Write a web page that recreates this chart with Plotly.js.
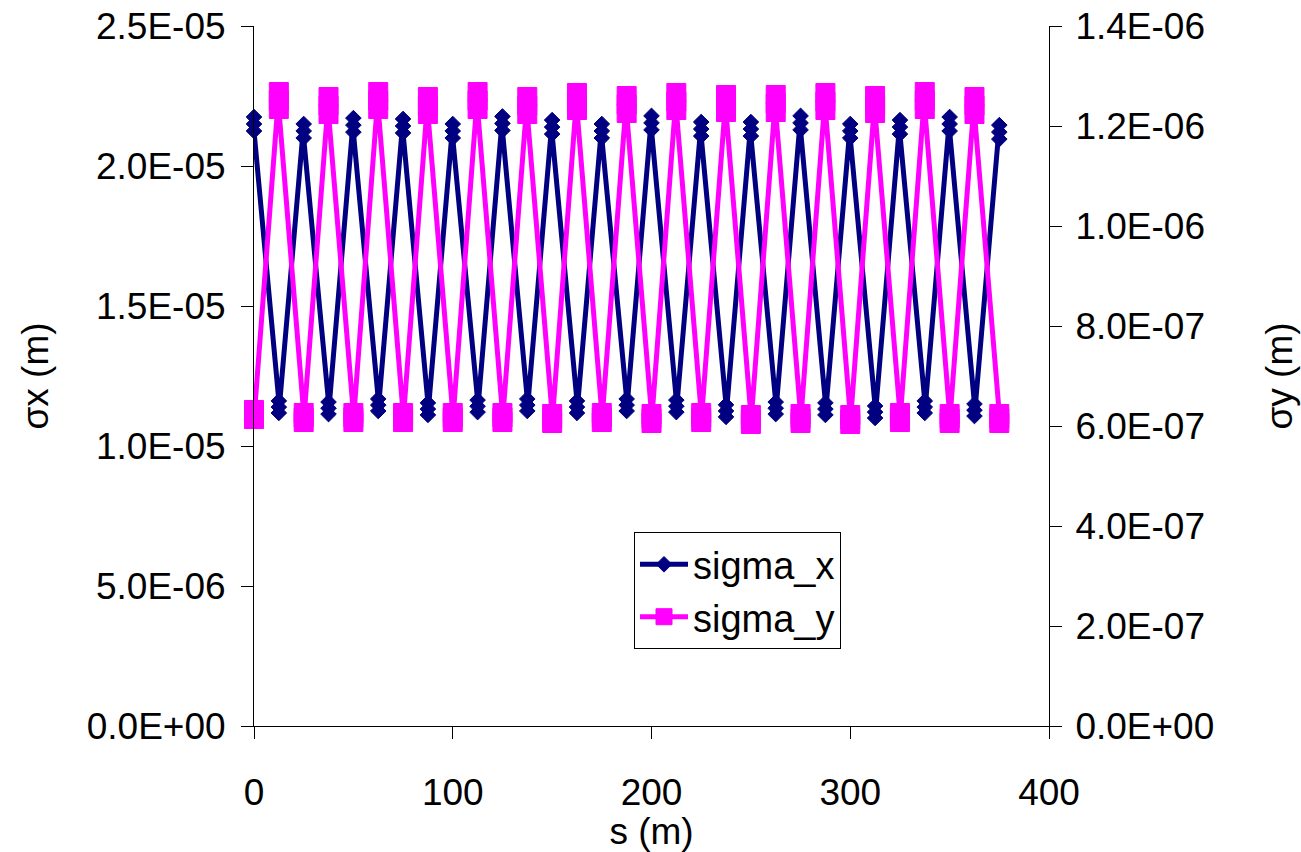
<!DOCTYPE html>
<html>
<head>
<meta charset="utf-8">
<script src="https://cdn.plot.ly/plotly-3.0.1.min.js"></script>
<style>
  html, body { margin: 0; padding: 0; background: #ffffff; }
  #chart { width: 1301px; height: 852px; }
</style>
</head>
<body>
<div id="chart"></div>
<script>
// Beam size along the lattice: three samples at every quadrupole position
const s = [
  0, 0, 0,  12.5, 12.5, 12.5,  25, 25, 25,  37.5, 37.5, 37.5,
  50, 50, 50,  62.5, 62.5, 62.5,  75, 75, 75,  87.5, 87.5, 87.5,
  100, 100, 100,  112.5, 112.5, 112.5,  125, 125, 125,  137.5, 137.5, 137.5,
  150, 150, 150,  162.5, 162.5, 162.5,  175, 175, 175,  187.5, 187.5, 187.5,
  200, 200, 200,  212.5, 212.5, 212.5,  225, 225, 225,  237.5, 237.5, 237.5,
  250, 250, 250,  262.5, 262.5, 262.5,  275, 275, 275,  287.5, 287.5, 287.5,
  300, 300, 300,  312.5, 312.5, 312.5,  325, 325, 325,  337.5, 337.5, 337.5,
  350, 350, 350,  362.5, 362.5, 362.5,  375, 375, 375
];

// Horizontal beam size (m), left axis
const sigmaX = [
  2.175e-5, 2.150e-5, 2.125e-5,   1.161e-5, 1.139e-5, 1.118e-5,
  2.150e-5, 2.125e-5, 2.100e-5,   1.157e-5, 1.135e-5, 1.114e-5,
  2.171e-5, 2.146e-5, 2.121e-5,   1.168e-5, 1.146e-5, 1.125e-5,
  2.168e-5, 2.143e-5, 2.118e-5,   1.154e-5, 1.132e-5, 1.111e-5,
  2.150e-5, 2.125e-5, 2.100e-5,   1.164e-5, 1.142e-5, 1.121e-5,
  2.177e-5, 2.152e-5, 2.127e-5,   1.168e-5, 1.146e-5, 1.125e-5,
  2.164e-5, 2.139e-5, 2.114e-5,   1.161e-5, 1.139e-5, 1.118e-5,
  2.150e-5, 2.125e-5, 2.100e-5,   1.168e-5, 1.146e-5, 1.125e-5,
  2.179e-5, 2.154e-5, 2.129e-5,   1.164e-5, 1.142e-5, 1.121e-5,
  2.157e-5, 2.132e-5, 2.107e-5,   1.147e-5, 1.125e-5, 1.104e-5,
  2.157e-5, 2.132e-5, 2.107e-5,   1.157e-5, 1.135e-5, 1.114e-5,
  2.179e-5, 2.154e-5, 2.129e-5,   1.154e-5, 1.132e-5, 1.111e-5,
  2.150e-5, 2.125e-5, 2.100e-5,   1.143e-5, 1.121e-5, 1.100e-5,
  2.164e-5, 2.139e-5, 2.114e-5,   1.161e-5, 1.139e-5, 1.118e-5,
  2.175e-5, 2.150e-5, 2.125e-5,   1.150e-5, 1.128e-5, 1.107e-5,
  2.146e-5, 2.121e-5, 2.096e-5
];

// Vertical beam size (m), right axis
const sigmaY = [
  0.632e-6, 0.623e-6, 0.614e-6,   1.268e-6, 1.251e-6, 1.234e-6,
  0.626e-6, 0.617e-6, 0.608e-6,   1.258e-6, 1.241e-6, 1.224e-6,
  0.626e-6, 0.617e-6, 0.608e-6,   1.268e-6, 1.251e-6, 1.234e-6,
  0.626e-6, 0.617e-6, 0.608e-6,   1.258e-6, 1.241e-6, 1.224e-6,
  0.626e-6, 0.617e-6, 0.608e-6,   1.268e-6, 1.251e-6, 1.234e-6,
  0.626e-6, 0.617e-6, 0.608e-6,   1.258e-6, 1.241e-6, 1.224e-6,
  0.624e-6, 0.615e-6, 0.606e-6,   1.266e-6, 1.249e-6, 1.232e-6,
  0.626e-6, 0.617e-6, 0.608e-6,   1.260e-6, 1.243e-6, 1.226e-6,
  0.624e-6, 0.615e-6, 0.606e-6,   1.266e-6, 1.249e-6, 1.232e-6,
  0.626e-6, 0.617e-6, 0.608e-6,   1.262e-6, 1.245e-6, 1.228e-6,
  0.622e-6, 0.613e-6, 0.604e-6,   1.262e-6, 1.245e-6, 1.228e-6,
  0.624e-6, 0.615e-6, 0.606e-6,   1.266e-6, 1.249e-6, 1.232e-6,
  0.622e-6, 0.613e-6, 0.604e-6,   1.260e-6, 1.243e-6, 1.226e-6,
  0.626e-6, 0.617e-6, 0.608e-6,   1.268e-6, 1.251e-6, 1.234e-6,
  0.624e-6, 0.615e-6, 0.606e-6,   1.258e-6, 1.241e-6, 1.224e-6,
  0.624e-6, 0.615e-6, 0.606e-6
];

// Axis ticks
const sTicks = [0, 100, 200, 300, 400];
const sTickText = ['0', '100', '200', '300', '400'];
const xTicksLeft = [0, 5e-6, 1e-5, 1.5e-5, 2e-5, 2.5e-5];
const xTickTextLeft = ['0.0E+00', '5.0E-06', '1.0E-05', '1.5E-05', '2.0E-05', '2.5E-05'];
const yTicksRight = [0, 2e-7, 4e-7, 6e-7, 8e-7, 1e-6, 1.2e-6, 1.4e-6];
const yTickTextRight = ['0.0E+00', '2.0E-07', '4.0E-07', '6.0E-07', '8.0E-07', '1.0E-06', '1.2E-06', '1.4E-06'];

const NAVY = '#000080';
const MAGENTA = '#FF00FF';
const FONT = 'Liberation Sans, Arial, sans-serif';
const FS = 37;

const traces = [
  {
    x: s, y: sigmaX, name: 'sigma_x', type: 'scatter', mode: 'lines+markers',
    xaxis: 'x', yaxis: 'y', cliponaxis: false,
    line: { color: NAVY, width: 5 },
    marker: { symbol: 'diamond', size: 12, color: NAVY, line: { color: NAVY, width: 1 } }
  },
  {
    x: s, y: sigmaY, name: 'sigma_y', type: 'scatter', mode: 'lines+markers',
    xaxis: 'x', yaxis: 'y2', cliponaxis: false,
    line: { color: MAGENTA, width: 5 },
    marker: { symbol: 'square', size: 19, color: MAGENTA, line: { color: MAGENTA, width: 1 } }
  }
];

const baseAxis = {
  showgrid: false, zeroline: false, showline: true,
  linecolor: '#000000', linewidth: 1,
  ticks: 'outside', ticklen: 12, tickwidth: 1, tickcolor: '#000000',
  tickfont: { family: FONT, size: FS, color: '#000000' }
};

// inward half of the crossing tick marks
const innerTicks = {
  showgrid: false, zeroline: false, showline: false, showticklabels: false,
  ticks: 'inside', ticklen: 6, tickwidth: 1, tickcolor: '#000000'
};

const layout = {
  width: 1301, height: 852,
  margin: { l: 254, r: 252, t: 26, b: 126 },
  paper_bgcolor: '#ffffff', plot_bgcolor: '#ffffff',
  font: { family: FONT, size: FS, color: '#000000' },
  showlegend: true,
  xaxis: Object.assign({}, baseAxis, {
    range: [0, 400], tickmode: 'array', tickvals: sTicks, ticktext: sTickText,
    ticklabelstandoff: 22,
    title: { text: 's (m)', font: { family: FONT, size: FS }, standoff: 14 }
  }),
  yaxis: Object.assign({}, baseAxis, {
    range: [0, 2.5e-5], tickmode: 'array', tickvals: xTicksLeft, ticktext: xTickTextLeft,
    ticklabelstandoff: 8,
    title: { text: 'σx (m)', font: { family: FONT, size: FS }, standoff: 26 }
  }),
  yaxis2: Object.assign({}, baseAxis, {
    overlaying: 'y', side: 'right', anchor: 'x',
    range: [0, 1.4e-6], tickmode: 'array', tickvals: yTicksRight, ticktext: yTickTextRight,
    ticklabelstandoff: 6,
    title: { text: 'σy (m)', font: { family: FONT, size: FS }, standoff: 52 }
  }),
  xaxis2: Object.assign({}, innerTicks, {
    overlaying: 'x', anchor: 'y', side: 'bottom',
    range: [0, 400], tickmode: 'array', tickvals: sTicks
  }),
  yaxis3: Object.assign({}, innerTicks, {
    overlaying: 'y', anchor: 'x', side: 'left',
    range: [0, 2.5e-5], tickmode: 'array', tickvals: xTicksLeft
  }),
  yaxis4: Object.assign({}, innerTicks, {
    overlaying: 'y', anchor: 'x', side: 'right',
    range: [0, 1.4e-6], tickmode: 'array', tickvals: yTicksRight
  }),
  legend: {
    x: 0.478, y: 0.277, xanchor: 'left', yanchor: 'top',
    bgcolor: '#ffffff', bordercolor: '#000000', borderwidth: 1,
    font: { family: FONT, size: 38, color: '#000000' },
    itemwidth: 48,
    tracegroupgap: 0
  }
};

Plotly.newPlot('chart', traces, layout, { displayModeBar: false, staticPlot: true });
</script>
</body>
</html>
